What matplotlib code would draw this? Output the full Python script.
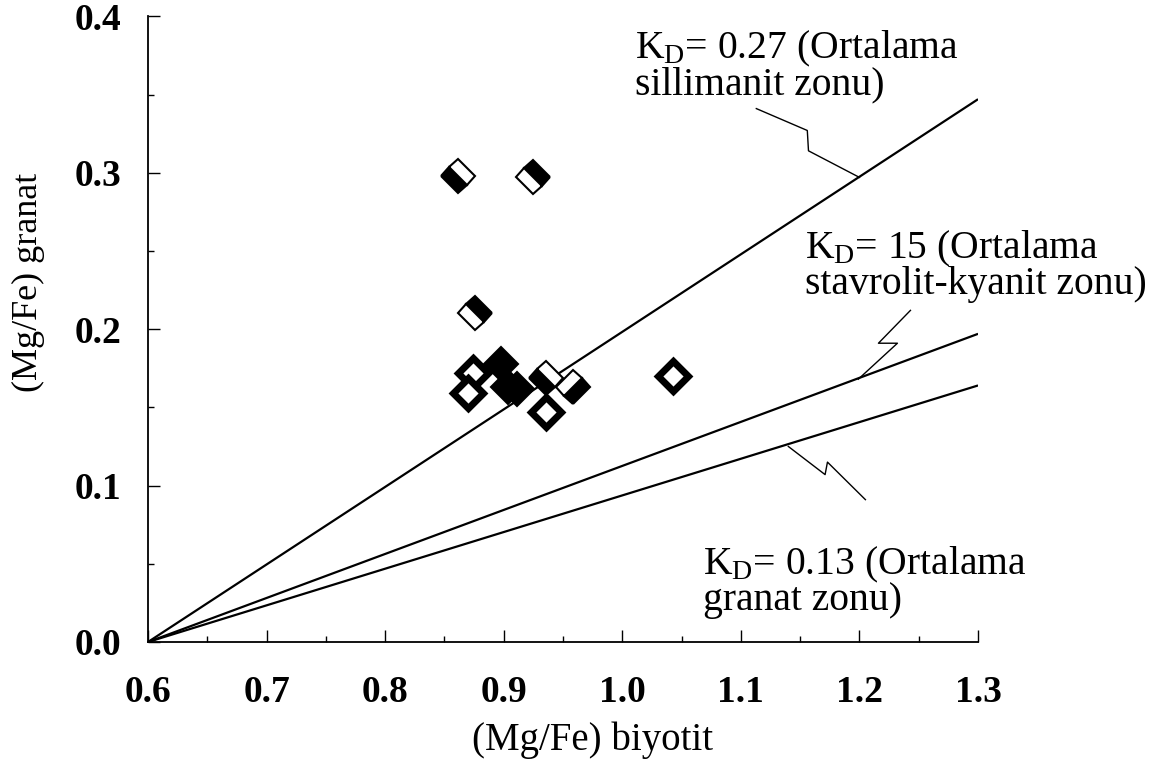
import numpy as np
import matplotlib
matplotlib.use('Agg')
import matplotlib.pyplot as plt
from matplotlib.markers import MarkerStyle
from matplotlib.transforms import Affine2D
from matplotlib.ticker import FormatStrFormatter, MultipleLocator

plt.rcParams['font.family'] = ['Liberation Serif', 'DejaVu Serif']
plt.rcParams['mathtext.fontset'] = 'custom'
plt.rcParams['mathtext.rm'] = 'Liberation Serif'
plt.rcParams['mathtext.it'] = 'Liberation Serif:italic'

# KD reference lines, start at (0.6, 0) and end at x = 1.3
line_x = [0.6, 1.3]
kd_027 = [0.0, 0.347]
kd_15 = [0.0, 0.197]
kd_013 = [0.0, 0.164]

# sample points
biyotit = [0.861, 0.925, 0.876, 0.874, 0.870, 0.898, 0.904, 0.911, 0.936, 0.958, 0.936, 1.043]
granat = [0.298, 0.297, 0.210, 0.172, 0.159, 0.178, 0.163, 0.162, 0.169, 0.163, 0.147, 0.170]

# how each diamond looks (half black / hollow / solid)
fills = ['left', 'right', 'right', 'hollow', 'hollow', 'full', 'full', 'full',
         'left', 'bottom', 'hollow', 'hollow']

labels = ['K$_\\mathrm{D}$= 0.27 (Ortalama\nsillimanit zonu)',
          'K$_\\mathrm{D}$= 15 (Ortalama\nstavrolit-kyanit zonu)',
          'K$_\\mathrm{D}$= 0.13 (Ortalama\ngranat zonu)']

fig = plt.figure(figsize=(11.52, 7.76), dpi=100)
ax = fig.add_axes([0.1285, 0.1727, 0.7205, 0.8063])

for yy in (kd_027, kd_15, kd_013):
    ax.plot(line_x, yy, color='black', lw=1.6, solid_capstyle='butt')

rot = Affine2D().rotate_deg(45)
for xi, yi, fs in zip(biyotit, granat, fills):
    if fs == 'hollow':
        m = MarkerStyle('s', fillstyle='full', transform=rot)
        ax.plot(xi, yi, marker=m, ms=15.5, mfc='white', mec='black', mew=5, zorder=3)
    else:
        m = MarkerStyle('s', fillstyle=fs, transform=rot)
        ax.plot(xi, yi, marker=m, ms=17.5, mfc='black', mfcalt='white',
                mec='black', mew=1.5, zorder=3)

# callouts with zigzag leaders
leaders = [([1.113, 1.156, 1.157, 1.200], [0.341, 0.327, 0.314, 0.297]),
           ([1.243, 1.216, 1.232, 1.199], [0.212, 0.191, 0.191, 0.168]),
           ([1.140, 1.171, 1.173, 1.205], [0.125, 0.107, 0.115, 0.091])]
for lx, ly in leaders:
    ax.plot(lx, ly, color='black', lw=1.0)

text_pos = [(1.011, 0.392), (1.154, 0.264), (1.068, 0.062)]
for (tx, ty), s in zip(text_pos, labels):
    ax.text(tx, ty, s, ha='left', va='top', fontsize=28.5, linespacing=0.9)

ax.set_xlim(0.6, 1.3)
ax.set_ylim(0.0, 0.4)
ax.xaxis.set_major_locator(MultipleLocator(0.1))
ax.xaxis.set_minor_locator(MultipleLocator(0.05))
ax.yaxis.set_major_locator(MultipleLocator(0.1))
ax.yaxis.set_minor_locator(MultipleLocator(0.05))
ax.xaxis.set_major_formatter(FormatStrFormatter('%.1f'))
ax.yaxis.set_major_formatter(FormatStrFormatter('%.1f'))
ax.tick_params(which='major', direction='in', length=8.5, width=1.0, labelsize=27)
ax.tick_params(axis='x', which='major', pad=24)
ax.tick_params(axis='y', which='major', pad=19)
ax.tick_params(which='minor', direction='in', length=4, width=1.0)
for lab in ax.get_xticklabels() + ax.get_yticklabels():
    lab.set_fontweight('bold')

for side in ('top', 'right'):
    ax.spines[side].set_visible(False)
for side in ('left', 'bottom'):
    ax.spines[side].set_linewidth(1.3)

ax.set_xlabel('(Mg/Fe) biyotit', fontsize=28)
ax.set_ylabel('(Mg/Fe) granat', fontsize=26)
ax.xaxis.set_label_coords(0.535, -0.127)
ax.yaxis.set_label_coords(-0.124, 0.575)

fig.savefig('out.png', dpi=100)
